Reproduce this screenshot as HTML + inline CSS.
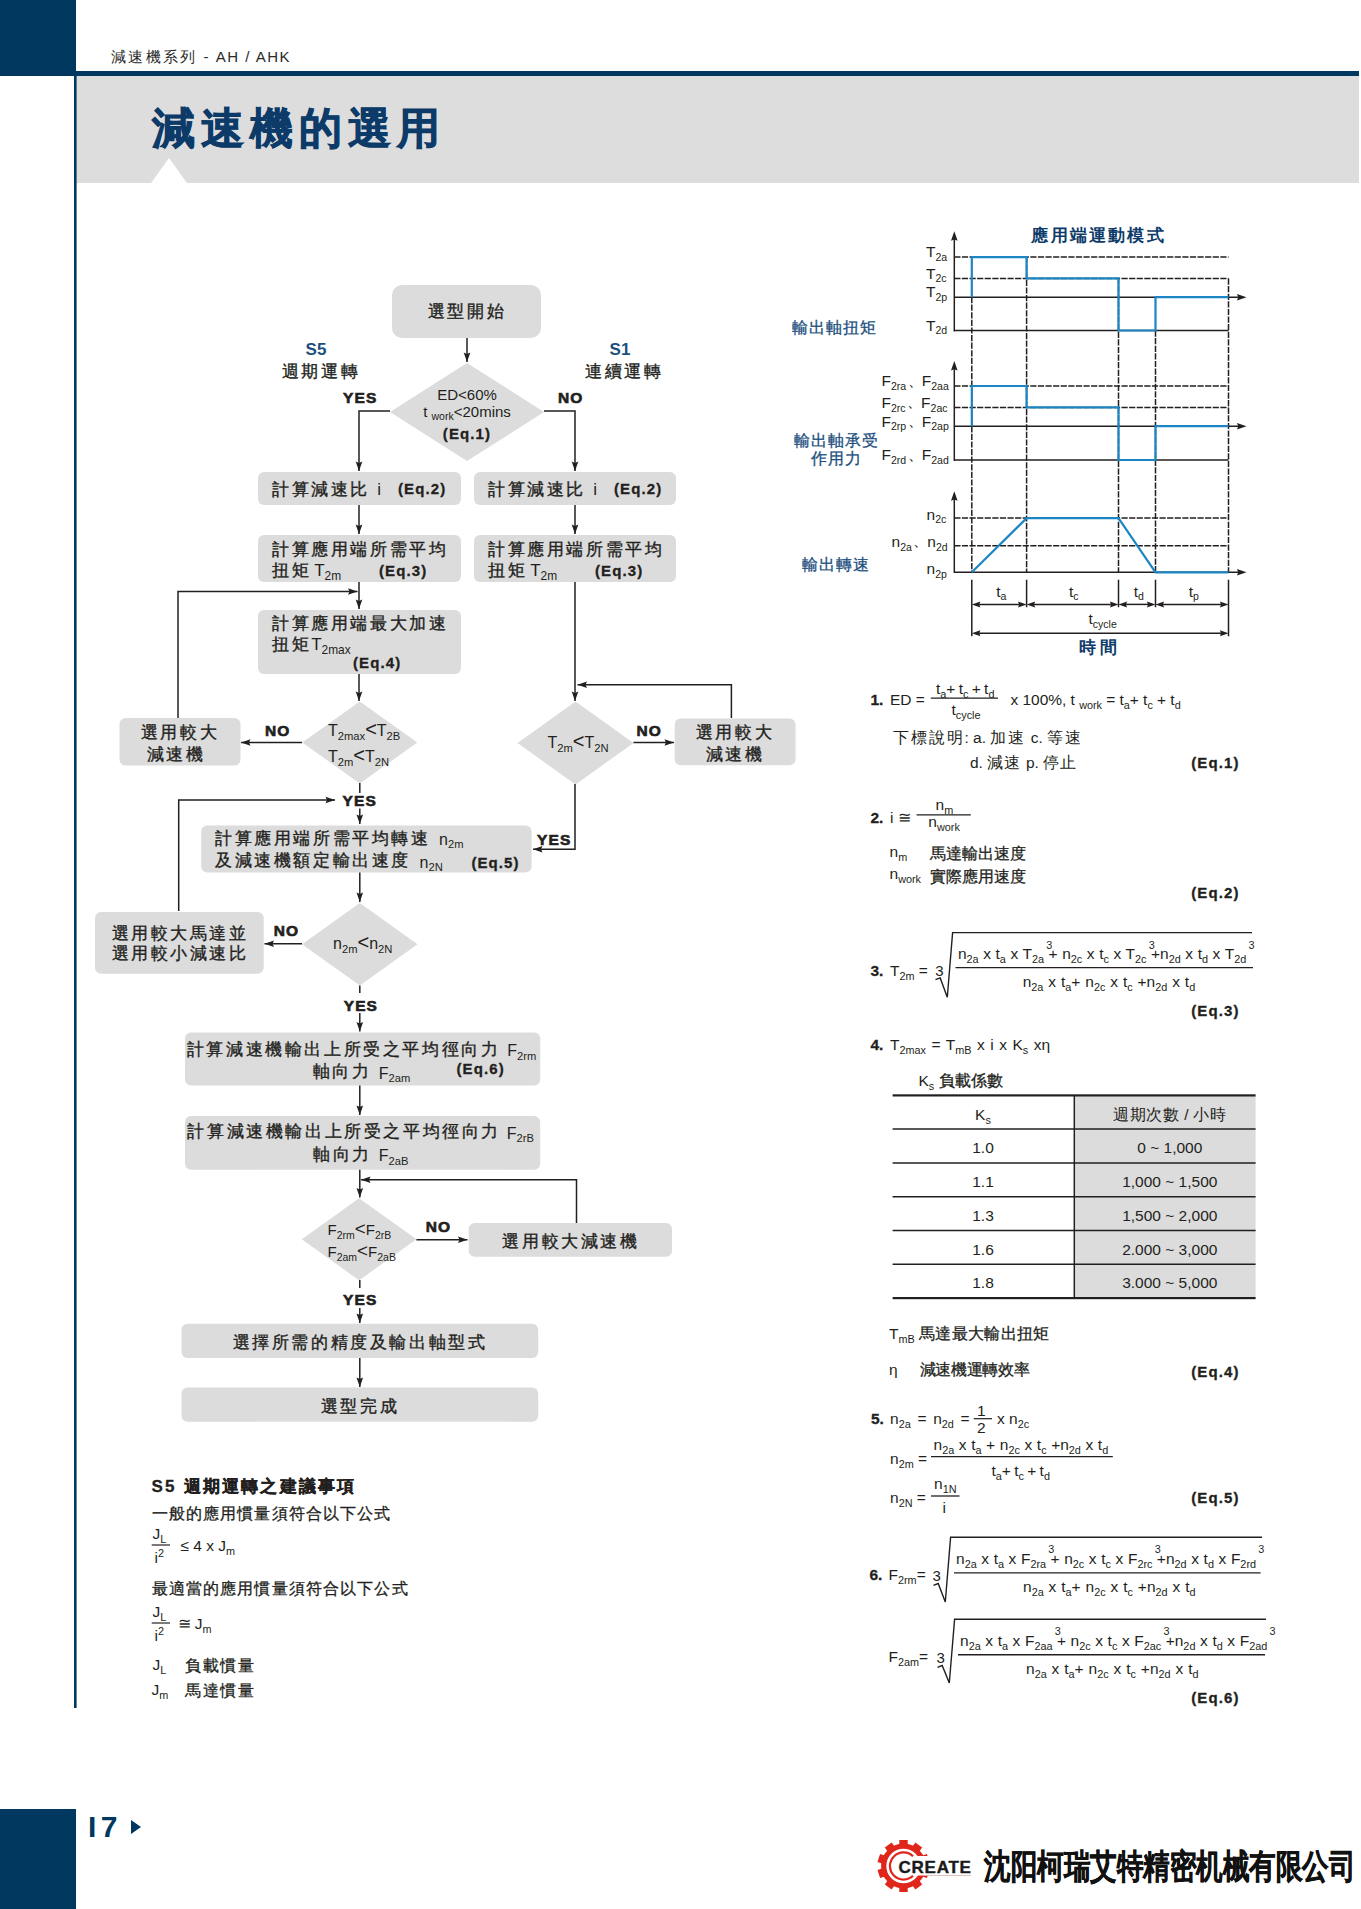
<!DOCTYPE html>
<html><head><meta charset="utf-8">
<style>
html,body{margin:0;padding:0;background:#fff;}
#pg{position:relative;width:1361px;height:1909px;overflow:hidden;background:#fff;font-family:"Liberation Sans",sans-serif;color:#231f20;}
.a{position:absolute;white-space:nowrap;line-height:1;}
.s{font-size:0.7em;position:relative;top:0.34em;letter-spacing:0;font-weight:normal;-webkit-text-stroke:0;}
.nl{letter-spacing:0;-webkit-text-stroke:0;}
.p{font-size:0.62em;position:relative;top:-0.55em;letter-spacing:0;}
.eq{font-weight:bold;letter-spacing:1.1px;-webkit-text-stroke:0.3px #231f20;}
.yn{font-weight:bold;letter-spacing:1.1px;-webkit-text-stroke:0.65px #231f20;}
.sc{font-size:0.68em;position:relative;top:0.36em;letter-spacing:0;}
.dn{font-size:0.95em;letter-spacing:0;margin-left:1.5px;margin-right:-1px;position:relative;top:-0.05em;}
.es{font-size:0.7em;position:relative;top:0.36em;letter-spacing:0;}
.e3{font-size:0.7em;position:relative;top:-0.95em;margin-right:-0.35em;margin-left:0.2em;}
.e2{font-size:0.7em;position:relative;top:-0.5em;}
.lt{font-size:1.25em;letter-spacing:0;position:relative;top:0;}
.s2{font-size:0.7em;position:relative;top:0.4em;letter-spacing:0;font-weight:normal;}
svg{position:absolute;left:0;top:0;}
</style></head><body><div id="pg">
<svg width="1361" height="1909" viewBox="0 0 1361 1909">
<rect x="0" y="0" width="76" height="76" fill="#00385f"/>
<rect x="76" y="71" width="1283" height="5" fill="#00385f"/>
<rect x="76" y="76" width="1283" height="107" fill="#dddddd"/>
<polygon points="151,183 169,158 187,183" fill="#fff"/>
<rect x="74" y="71" width="2.6" height="1637" fill="#00385f"/>
<rect x="0" y="1809" width="76" height="100" fill="#00385f"/>
<polygon points="131,1820 141,1827 131,1834" fill="#00385f"/>
<rect x="392" y="285" width="149" height="53" rx="10" fill="#dcdcdc"/>
<polyline points="467,338 467,362" fill="none" stroke="#231f20" stroke-width="1.5"/>
<polygon points="467.00,362.00 470.30,352.50 467.00,354.00 463.70,352.50" fill="#231f20"/>
<polygon points="390,412 467,363 544,412 467,461" fill="#dcdcdc"/>
<polyline points="390,411 359,411 359,471" fill="none" stroke="#231f20" stroke-width="1.5"/>
<polygon points="359.00,471.00 362.30,461.50 359.00,463.00 355.70,461.50" fill="#231f20"/>
<polyline points="544,411 575,411 575,471" fill="none" stroke="#231f20" stroke-width="1.5"/>
<polygon points="575.00,471.00 578.30,461.50 575.00,463.00 571.70,461.50" fill="#231f20"/>
<rect x="258" y="472" width="203" height="33" rx="6" fill="#dcdcdc"/>
<rect x="474" y="472" width="202" height="33" rx="6" fill="#dcdcdc"/>
<polyline points="359,505 359,534" fill="none" stroke="#231f20" stroke-width="1.5"/>
<polygon points="359.00,534.00 362.30,524.50 359.00,526.00 355.70,524.50" fill="#231f20"/>
<polyline points="575,505 575,534" fill="none" stroke="#231f20" stroke-width="1.5"/>
<polygon points="575.00,534.00 578.30,524.50 575.00,526.00 571.70,524.50" fill="#231f20"/>
<rect x="258" y="535" width="203" height="47" rx="6" fill="#dcdcdc"/>
<rect x="474" y="535" width="202" height="47" rx="6" fill="#dcdcdc"/>
<polyline points="359,582 359,609" fill="none" stroke="#231f20" stroke-width="1.5"/>
<polygon points="359.00,609.00 362.30,599.50 359.00,601.00 355.70,599.50" fill="#231f20"/>
<polyline points="178,718 178,591.5 357.5,591.5" fill="none" stroke="#231f20" stroke-width="1.5"/>
<polygon points="357.50,591.50 348.00,588.20 349.50,591.50 348.00,594.80" fill="#231f20"/>
<rect x="258" y="610" width="203" height="64" rx="6" fill="#dcdcdc"/>
<polyline points="359,674 359,701" fill="none" stroke="#231f20" stroke-width="1.5"/>
<polygon points="359.00,701.00 362.30,691.50 359.00,693.00 355.70,691.50" fill="#231f20"/>
<polygon points="302.3,742.5 359.8,701.5 417.3,742.5 359.8,783.5" fill="#dcdcdc"/>
<polyline points="302,742.5 241,742.5" fill="none" stroke="#231f20" stroke-width="1.5"/>
<polygon points="241.00,742.50 250.50,745.80 249.00,742.50 250.50,739.20" fill="#231f20"/>
<rect x="119.5" y="718" width="121.0" height="47.5" rx="6" fill="#dcdcdc"/>
<polyline points="575,582 575,701" fill="none" stroke="#231f20" stroke-width="1.5"/>
<polygon points="575.00,701.00 578.30,691.50 575.00,693.00 571.70,691.50" fill="#231f20"/>
<polygon points="517.5,743 575.5,701.5 633.5,743 575.5,784.5" fill="#dcdcdc"/>
<polyline points="633.5,742.5 674,742.5" fill="none" stroke="#231f20" stroke-width="1.5"/>
<polygon points="674.00,742.50 664.50,739.20 666.00,742.50 664.50,745.80" fill="#231f20"/>
<rect x="674.7" y="718.5" width="120.79999999999995" height="46.700000000000045" rx="6" fill="#dcdcdc"/>
<polyline points="731.4,718 731.4,684.7 577.5,684.7" fill="none" stroke="#231f20" stroke-width="1.5"/>
<polygon points="577.50,684.70 587.00,688.00 585.50,684.70 587.00,681.40" fill="#231f20"/>
<line x1="359.8" y1="783" x2="359.8" y2="793" stroke="#231f20" stroke-width="1.5"/>
<polyline points="359.8,808.4 359.8,824" fill="none" stroke="#231f20" stroke-width="1.5"/>
<polygon points="359.80,824.00 363.10,814.50 359.80,816.00 356.50,814.50" fill="#231f20"/>
<polyline points="178.7,911 178.7,800 335,800" fill="none" stroke="#231f20" stroke-width="1.5"/>
<polygon points="335.00,800.00 325.50,796.70 327.00,800.00 325.50,803.30" fill="#231f20"/>
<polyline points="575,784 575,849.3 533,849.3" fill="none" stroke="#231f20" stroke-width="1.5"/>
<polygon points="533.00,849.30 542.50,852.60 541.00,849.30 542.50,846.00" fill="#231f20"/>
<rect x="201.2" y="825.5" width="330.40000000000003" height="47.0" rx="6" fill="#dcdcdc"/>
<polyline points="359.8,872.5 359.8,902" fill="none" stroke="#231f20" stroke-width="1.5"/>
<polygon points="359.80,902.00 363.10,892.50 359.80,894.00 356.50,892.50" fill="#231f20"/>
<polygon points="302.1,944.2 359.8,902.9000000000001 417.5,944.2 359.8,985.5" fill="#dcdcdc"/>
<polyline points="302,943.7 264.5,943.7" fill="none" stroke="#231f20" stroke-width="1.5"/>
<polygon points="264.50,943.70 274.00,947.00 272.50,943.70 274.00,940.40" fill="#231f20"/>
<rect x="95" y="912" width="168.7" height="61.700000000000045" rx="6" fill="#dcdcdc"/>
<line x1="359.8" y1="985.5" x2="359.8" y2="993" stroke="#231f20" stroke-width="1.5"/>
<polyline points="359.8,1013 359.8,1031.5" fill="none" stroke="#231f20" stroke-width="1.5"/>
<polygon points="359.80,1031.50 363.10,1022.00 359.80,1023.50 356.50,1022.00" fill="#231f20"/>
<rect x="185" y="1032.5" width="355.20000000000005" height="53.0" rx="6" fill="#dcdcdc"/>
<polyline points="359.8,1085.5 359.8,1115" fill="none" stroke="#231f20" stroke-width="1.5"/>
<polygon points="359.80,1115.00 363.10,1105.50 359.80,1107.00 356.50,1105.50" fill="#231f20"/>
<rect x="185" y="1116" width="355.20000000000005" height="53.700000000000045" rx="6" fill="#dcdcdc"/>
<polyline points="359.8,1169.7 359.8,1197.5" fill="none" stroke="#231f20" stroke-width="1.5"/>
<polygon points="359.80,1197.50 363.10,1188.00 359.80,1189.50 356.50,1188.00" fill="#231f20"/>
<polyline points="576.5,1223 576.5,1179.7 361,1179.7" fill="none" stroke="#231f20" stroke-width="1.5"/>
<polygon points="361.00,1179.70 370.50,1183.00 369.00,1179.70 370.50,1176.40" fill="#231f20"/>
<polygon points="301.8,1239.3 359.1,1198.3 416.40000000000003,1239.3 359.1,1280.3" fill="#dcdcdc"/>
<polyline points="416.4,1239.7 467.5,1239.7" fill="none" stroke="#231f20" stroke-width="1.5"/>
<polygon points="467.50,1239.70 458.00,1236.40 459.50,1239.70 458.00,1243.00" fill="#231f20"/>
<rect x="468.7" y="1222.9" width="203.3" height="33.799999999999955" rx="6" fill="#dcdcdc"/>
<line x1="359.8" y1="1280" x2="359.8" y2="1288" stroke="#231f20" stroke-width="1.5"/>
<polyline points="359.8,1308 359.8,1323" fill="none" stroke="#231f20" stroke-width="1.5"/>
<polygon points="359.80,1323.00 363.10,1313.50 359.80,1315.00 356.50,1313.50" fill="#231f20"/>
<rect x="181.5" y="1323.8" width="356.70000000000005" height="34.299999999999955" rx="6" fill="#dcdcdc"/>
<polyline points="359.8,1358.1 359.8,1387" fill="none" stroke="#231f20" stroke-width="1.5"/>
<polygon points="359.80,1387.00 363.10,1377.50 359.80,1379.00 356.50,1377.50" fill="#231f20"/>
<rect x="181.5" y="1387.4" width="356.70000000000005" height="34.299999999999955" rx="6" fill="#dcdcdc"/>
<line x1="971.8" y1="297" x2="971.8" y2="572" stroke="#231f20" stroke-width="1.5" stroke-dasharray="6.2 1.4"/>
<line x1="1026.6" y1="257" x2="1026.6" y2="572" stroke="#231f20" stroke-width="1.5" stroke-dasharray="6.2 1.4"/>
<line x1="1118.5" y1="278.5" x2="1118.5" y2="572" stroke="#231f20" stroke-width="1.5" stroke-dasharray="6.2 1.4"/>
<line x1="1155.5" y1="330.5" x2="1155.5" y2="572" stroke="#231f20" stroke-width="1.5" stroke-dasharray="6.2 1.4"/>
<line x1="1228.5" y1="278.5" x2="1228.5" y2="572" stroke="#231f20" stroke-width="1.5" stroke-dasharray="6.2 1.4"/>
<line x1="954.3" y1="235.3" x2="954.3" y2="331.5" stroke="#231f20" stroke-width="1.5" />
<polygon points="954.30,231.30 951.00,240.80 954.30,239.60 957.60,240.80" fill="#231f20"/>
<line x1="954.3" y1="257.1" x2="1228.5" y2="257.1" stroke="#231f20" stroke-width="1.5" stroke-dasharray="6.2 1.4"/>
<line x1="954.3" y1="278.4" x2="1228.5" y2="278.4" stroke="#231f20" stroke-width="1.5" stroke-dasharray="6.2 1.4"/>
<line x1="954.3" y1="297.2" x2="1240" y2="297.2" stroke="#231f20" stroke-width="1.5" />
<polygon points="1246.50,297.20 1237.00,293.90 1238.20,297.20 1237.00,300.50" fill="#231f20"/>
<line x1="954.3" y1="330.5" x2="1228.5" y2="330.5" stroke="#231f20" stroke-width="1.5" />
<polyline points="971.8,297.2 971.8,257.1 1026.6,257.1 1026.6,278.4 1118.5,278.4 1118.5,330.5 1155.5,330.5 1155.5,297.2 1228.5,297.2" fill="none" stroke="#1b86c3" stroke-width="2.2"/>
<line x1="954.3" y1="365" x2="954.3" y2="461" stroke="#231f20" stroke-width="1.5" />
<polygon points="954.30,361.00 951.00,370.50 954.30,369.30 957.60,370.50" fill="#231f20"/>
<line x1="954.3" y1="386" x2="1228.5" y2="386" stroke="#231f20" stroke-width="1.5" stroke-dasharray="6.2 1.4"/>
<line x1="954.3" y1="407.4" x2="1228.5" y2="407.4" stroke="#231f20" stroke-width="1.5" stroke-dasharray="6.2 1.4"/>
<line x1="954.3" y1="426.2" x2="1240" y2="426.2" stroke="#231f20" stroke-width="1.5" />
<polygon points="1246.50,426.20 1237.00,422.90 1238.20,426.20 1237.00,429.50" fill="#231f20"/>
<line x1="954.3" y1="460" x2="1228.5" y2="460" stroke="#231f20" stroke-width="1.5" />
<polyline points="971.8,426.2 971.8,386 1026.6,386 1026.6,407.4 1118.5,407.4 1118.5,460 1155.5,460 1155.5,426.2 1228.5,426.2" fill="none" stroke="#1b86c3" stroke-width="2.2"/>
<line x1="954.3" y1="495" x2="954.3" y2="573" stroke="#231f20" stroke-width="1.5" />
<polygon points="954.30,491.20 951.00,500.70 954.30,499.50 957.60,500.70" fill="#231f20"/>
<line x1="954.3" y1="518.1" x2="1228.5" y2="518.1" stroke="#231f20" stroke-width="1.5" stroke-dasharray="6.2 1.4"/>
<line x1="954.3" y1="545.7" x2="1228.5" y2="545.7" stroke="#231f20" stroke-width="1.5" stroke-dasharray="6.2 1.4"/>
<line x1="954.3" y1="572.3" x2="1240" y2="572.3" stroke="#231f20" stroke-width="1.5" />
<polygon points="1246.50,572.30 1237.00,569.00 1238.20,572.30 1237.00,575.60" fill="#231f20"/>
<polyline points="971.8,572.3 1026.6,518.1 1118.5,518.1 1155.5,572.3 1228.5,572.3" fill="none" stroke="#1b86c3" stroke-width="2.2"/>
<line x1="971.8" y1="579.7" x2="971.8" y2="636.3" stroke="#231f20" stroke-width="1.5" />
<line x1="1228.5" y1="579.7" x2="1228.5" y2="636.3" stroke="#231f20" stroke-width="1.5" />
<line x1="1026.6" y1="579.7" x2="1026.6" y2="607.2" stroke="#231f20" stroke-width="1.5" />
<line x1="1118.5" y1="579.7" x2="1118.5" y2="607.2" stroke="#231f20" stroke-width="1.5" />
<line x1="1155.5" y1="579.7" x2="1155.5" y2="607.2" stroke="#231f20" stroke-width="1.5" />
<line x1="975.8" y1="604.4" x2="1022.5999999999999" y2="604.4" stroke="#231f20" stroke-width="1.5" />
<polygon points="971.80,604.40 980.40,607.40 979.20,604.40 980.40,601.40" fill="#231f20"/>
<polygon points="1026.60,604.40 1018.00,601.40 1019.20,604.40 1018.00,607.40" fill="#231f20"/>
<line x1="1030.6" y1="604.4" x2="1114.5" y2="604.4" stroke="#231f20" stroke-width="1.5" />
<polygon points="1026.60,604.40 1035.20,607.40 1034.00,604.40 1035.20,601.40" fill="#231f20"/>
<polygon points="1118.50,604.40 1109.90,601.40 1111.10,604.40 1109.90,607.40" fill="#231f20"/>
<line x1="1122.5" y1="604.4" x2="1151.5" y2="604.4" stroke="#231f20" stroke-width="1.5" />
<polygon points="1118.50,604.40 1127.10,607.40 1125.90,604.40 1127.10,601.40" fill="#231f20"/>
<polygon points="1155.50,604.40 1146.90,601.40 1148.10,604.40 1146.90,607.40" fill="#231f20"/>
<line x1="1159.5" y1="604.4" x2="1224.5" y2="604.4" stroke="#231f20" stroke-width="1.5" />
<polygon points="1155.50,604.40 1164.10,607.40 1162.90,604.40 1164.10,601.40" fill="#231f20"/>
<polygon points="1228.50,604.40 1219.90,601.40 1221.10,604.40 1219.90,607.40" fill="#231f20"/>
<line x1="975.8" y1="633.2" x2="1224.5" y2="633.2" stroke="#231f20" stroke-width="1.5" />
<polygon points="971.80,633.20 980.40,636.20 979.20,633.20 980.40,630.20" fill="#231f20"/>
<polygon points="1228.50,633.20 1219.90,630.20 1221.10,633.20 1219.90,636.20" fill="#231f20"/>
<line x1="930.8" y1="698.2" x2="998" y2="698.2" stroke="#231f20" stroke-width="1.2" />
<line x1="916.6" y1="814.8" x2="970.8" y2="814.8" stroke="#231f20" stroke-width="1.2" />
<polyline points="935.5,979.7 940.2,977.9 947.3,997.3 952.6,932.6 1252,932.6" fill="none" stroke="#231f20" stroke-width="1.4"/>
<line x1="955.5" y1="967.6" x2="1253" y2="967.6" stroke="#231f20" stroke-width="1.4" />
<rect x="1074.3" y="1095.3" width="181.3" height="202.7" fill="#dcdcdc"/>
<rect x="892.6" y="1094.3" width="363" height="2.2" fill="#231f20"/>
<rect x="892.6" y="1297" width="363" height="2.2" fill="#231f20"/>
<line x1="892.6" y1="1129" x2="1255.6" y2="1129" stroke="#231f20" stroke-width="1.5" />
<line x1="892.6" y1="1163" x2="1255.6" y2="1163" stroke="#231f20" stroke-width="1.5" />
<line x1="892.6" y1="1196.7" x2="1255.6" y2="1196.7" stroke="#231f20" stroke-width="1.5" />
<line x1="892.6" y1="1230.5" x2="1255.6" y2="1230.5" stroke="#231f20" stroke-width="1.5" />
<line x1="892.6" y1="1264.3" x2="1255.6" y2="1264.3" stroke="#231f20" stroke-width="1.5" />
<line x1="1074.3" y1="1095.3" x2="1074.3" y2="1298" stroke="#231f20" stroke-width="1.5" />
<line x1="973.7" y1="1418.7" x2="992" y2="1418.7" stroke="#231f20" stroke-width="1.2" />
<line x1="931" y1="1456.6" x2="1112.8" y2="1456.6" stroke="#231f20" stroke-width="1.3" />
<line x1="931" y1="1496" x2="959.5" y2="1496" stroke="#231f20" stroke-width="1.3" />
<polyline points="933.5,1585.3 938.2,1583.5 945.3,1602 950.6,1537.2 1262,1537.2" fill="none" stroke="#231f20" stroke-width="1.4"/>
<line x1="954" y1="1572.9" x2="1260.6" y2="1572.9" stroke="#231f20" stroke-width="1.4" />
<polyline points="937.5,1667.3 942.2,1665.5 949.3,1683 954.6,1619.3 1266,1619.3" fill="none" stroke="#231f20" stroke-width="1.4"/>
<line x1="958" y1="1654.7" x2="1265" y2="1654.7" stroke="#231f20" stroke-width="1.4" />
<line x1="151.7" y1="1545" x2="170" y2="1545" stroke="#231f20" stroke-width="1.2" />
<line x1="151.7" y1="1623" x2="170" y2="1623" stroke="#231f20" stroke-width="1.2" />
<g><rect x="899.3" y="1840" width="8.4" height="8" fill="#e0251b" transform="rotate(0 903.5 1866)"/><rect x="899.3" y="1840" width="8.4" height="8" fill="#e0251b" transform="rotate(36 903.5 1866)"/><rect x="899.3" y="1840" width="8.4" height="8" fill="#e0251b" transform="rotate(72 903.5 1866)"/><rect x="899.3" y="1840" width="8.4" height="8" fill="#e0251b" transform="rotate(108 903.5 1866)"/><rect x="899.3" y="1840" width="8.4" height="8" fill="#e0251b" transform="rotate(144 903.5 1866)"/><rect x="899.3" y="1840" width="8.4" height="8" fill="#e0251b" transform="rotate(180 903.5 1866)"/><rect x="899.3" y="1840" width="8.4" height="8" fill="#e0251b" transform="rotate(216 903.5 1866)"/><rect x="899.3" y="1840" width="8.4" height="8" fill="#e0251b" transform="rotate(252 903.5 1866)"/><rect x="899.3" y="1840" width="8.4" height="8" fill="#e0251b" transform="rotate(288 903.5 1866)"/><rect x="899.3" y="1840" width="8.4" height="8" fill="#e0251b" transform="rotate(324 903.5 1866)"/><circle cx="903.5" cy="1866" r="19.8" fill="none" stroke="#e0251b" stroke-width="5.2"/></g>
<path d="M 913.0,1856.2 A 13.6 13.6 0 1 0 913.0,1875.8" fill="none" stroke="#e0251b" stroke-width="2.2"/>
<rect x="916" y="1856" width="16" height="19.5" fill="#fff"/>
<line x1="923" y1="1875.5" x2="971" y2="1875.5" stroke="#d9b0ad" stroke-width="0.8"/>
</svg>
<div class="a" style="left:111.0px;top:48.5px;font-size:15px;letter-spacing:2.3px;color:#2a2a2a;">減速機系列<span style="letter-spacing:1.5px;margin-left:6px">- AH / AHK</span></div>
<div class="a" style="left:152.0px;top:107.3px;font-size:43px;letter-spacing:6.1px;color:#0d3b69;font-weight:900;-webkit-text-stroke:0.8px #0d3b69;">減速機的選用</div>
<div class="a" style="left:88.0px;top:1812.4px;font-size:30px;font-weight:bold;color:#00385f;letter-spacing:4.5px;">I7</div>
<div class="a" style="left:467.0px;top:303.0px;font-size:17px;transform:translateX(-50%);letter-spacing:2.6px;-webkit-text-stroke:0.35px #231f20;">選型開始</div>
<div class="a" style="left:316.0px;top:341.0px;font-size:17px;transform:translateX(-50%);font-weight:bold;color:#1c4f7c;">S5</div>
<div class="a" style="left:321.0px;top:363.0px;font-size:17px;transform:translateX(-50%);letter-spacing:2.6px;-webkit-text-stroke:0.35px #231f20;">週期運轉</div>
<div class="a" style="left:620.0px;top:341.0px;font-size:17px;transform:translateX(-50%);font-weight:bold;color:#1c4f7c;">S1</div>
<div class="a" style="left:624.5px;top:363.0px;font-size:17px;transform:translateX(-50%);letter-spacing:2.6px;-webkit-text-stroke:0.35px #231f20;">連續運轉</div>
<div class="a" style="left:343.0px;top:389.7px;font-size:15.5px;"><span class="yn">YES</span></div>
<div class="a" style="left:558.0px;top:389.7px;font-size:15.5px;"><span class="yn">NO</span></div>
<div class="a" style="left:467.0px;top:386.9px;font-size:15px;transform:translateX(-50%);">ED&lt;60%</div>
<div class="a" style="left:467.0px;top:403.9px;font-size:15px;transform:translateX(-50%);">t <span class="s">work</span>&lt;20mins</div>
<div class="a" style="left:467.0px;top:425.9px;font-size:15px;transform:translateX(-50%);"><b class="eq">(Eq.1)</b></div>
<div class="a" style="left:272.0px;top:480.5px;font-size:17px;letter-spacing:2.6px;-webkit-text-stroke:0.35px #231f20;">計算減速比 <span class="nl">i</span></div>
<div class="a" style="left:398.0px;top:481.4px;font-size:15px;"><b class="eq">(Eq.2)</b></div>
<div class="a" style="left:488.0px;top:480.5px;font-size:17px;letter-spacing:2.6px;-webkit-text-stroke:0.35px #231f20;">計算減速比 <span class="nl">i</span></div>
<div class="a" style="left:614.0px;top:481.4px;font-size:15px;"><b class="eq">(Eq.2)</b></div>
<div class="a" style="left:272.0px;top:541.0px;font-size:17px;letter-spacing:2.6px;-webkit-text-stroke:0.35px #231f20;">計算應用端所需平均</div>
<div class="a" style="left:272.0px;top:562.0px;font-size:17px;letter-spacing:2.6px;-webkit-text-stroke:0.35px #231f20;">扭矩<span class="nl" style="margin-left:3px">T</span><span class="s">2m</span></div>
<div class="a" style="left:379.0px;top:563.0px;font-size:15px;"><b class="eq">(Eq.3)</b></div>
<div class="a" style="left:488.0px;top:541.0px;font-size:17px;letter-spacing:2.6px;-webkit-text-stroke:0.35px #231f20;">計算應用端所需平均</div>
<div class="a" style="left:488.0px;top:562.0px;font-size:17px;letter-spacing:2.6px;-webkit-text-stroke:0.35px #231f20;">扭矩<span class="nl" style="margin-left:3px">T</span><span class="s">2m</span></div>
<div class="a" style="left:595.0px;top:563.0px;font-size:15px;"><b class="eq">(Eq.3)</b></div>
<div class="a" style="left:272.0px;top:615.0px;font-size:17px;letter-spacing:2.6px;-webkit-text-stroke:0.35px #231f20;">計算應用端最大加速</div>
<div class="a" style="left:272.0px;top:636.0px;font-size:17px;letter-spacing:2.6px;-webkit-text-stroke:0.35px #231f20;">扭矩<span class="nl">T</span><span class="s">2max</span></div>
<div class="a" style="left:353.0px;top:655.0px;font-size:15px;"><b class="eq">(Eq.4)</b></div>
<div class="a" style="left:328.0px;top:718.5px;font-size:16px;">T<span class="s2">2max</span><span class="lt">&lt;</span>T<span class="s2">2B</span></div>
<div class="a" style="left:328.0px;top:744.5px;font-size:16px;">T<span class="s2">2m</span><span class="lt">&lt;</span>T<span class="s2">2N</span></div>
<div class="a" style="left:180.0px;top:723.5px;font-size:17px;transform:translateX(-50%);letter-spacing:2.6px;-webkit-text-stroke:0.35px #231f20;">選用較大</div>
<div class="a" style="left:176.0px;top:745.5px;font-size:17px;transform:translateX(-50%);letter-spacing:2.6px;-webkit-text-stroke:0.35px #231f20;">減速機</div>
<div class="a" style="left:265.0px;top:723.2px;font-size:15.5px;"><span class="yn">NO</span></div>
<div class="a" style="left:547.5px;top:730.5px;font-size:16px;">T<span class="s2">2m</span><span class="lt">&lt;</span>T<span class="s2">2N</span></div>
<div class="a" style="left:636.5px;top:723.2px;font-size:15.5px;"><span class="yn">NO</span></div>
<div class="a" style="left:735.0px;top:723.8px;font-size:17px;transform:translateX(-50%);letter-spacing:2.6px;-webkit-text-stroke:0.35px #231f20;">選用較大</div>
<div class="a" style="left:735.0px;top:745.8px;font-size:17px;transform:translateX(-50%);letter-spacing:2.6px;-webkit-text-stroke:0.35px #231f20;">減速機</div>
<div class="a" style="left:342.6px;top:792.7px;font-size:15.5px;"><span class="yn">YES</span></div>
<div class="a" style="left:537.0px;top:831.7px;font-size:15.5px;"><span class="yn">YES</span></div>
<div class="a" style="left:215.0px;top:829.5px;font-size:17px;letter-spacing:2.6px;-webkit-text-stroke:0.35px #231f20;">計算應用端所需平均轉速</div>
<div class="a" style="left:439.0px;top:831.5px;font-size:16px;">n<span class="s">2m</span></div>
<div class="a" style="left:215.0px;top:852.0px;font-size:17px;letter-spacing:2.6px;-webkit-text-stroke:0.35px #231f20;">及減速機額定輸出速度</div>
<div class="a" style="left:419.6px;top:854.5px;font-size:16px;">n<span class="s">2N</span></div>
<div class="a" style="left:471.4px;top:854.6px;font-size:15px;"><b class="eq">(Eq.5)</b></div>
<div class="a" style="left:333.0px;top:932.0px;font-size:16px;">n<span class="s2">2m</span><span class="lt">&lt;</span>n<span class="s2">2N</span></div>
<div class="a" style="left:273.7px;top:922.7px;font-size:15.5px;"><span class="yn">NO</span></div>
<div class="a" style="left:111.5px;top:924.5px;font-size:17px;letter-spacing:2.6px;-webkit-text-stroke:0.35px #231f20;">選用較大馬達並</div>
<div class="a" style="left:111.5px;top:945.2px;font-size:17px;letter-spacing:2.6px;-webkit-text-stroke:0.35px #231f20;">選用較小減速比</div>
<div class="a" style="left:343.7px;top:998.2px;font-size:15.5px;"><span class="yn">YES</span></div>
<div class="a" style="left:186.8px;top:1040.7px;font-size:17px;letter-spacing:2.6px;-webkit-text-stroke:0.35px #231f20;">計算減速機輸出上所受之平均徑向力</div>
<div class="a" style="left:507.3px;top:1043.0px;font-size:16px;">F<span class="s">2rm</span></div>
<div class="a" style="left:312.5px;top:1063.0px;font-size:17px;letter-spacing:2.6px;-webkit-text-stroke:0.35px #231f20;">軸向力</div>
<div class="a" style="left:378.8px;top:1065.5px;font-size:16px;">F<span class="s">2am</span></div>
<div class="a" style="left:456.5px;top:1061.2px;font-size:15px;"><b class="eq">(Eq.6)</b></div>
<div class="a" style="left:187.4px;top:1123.0px;font-size:17px;letter-spacing:2.6px;-webkit-text-stroke:0.35px #231f20;">計算減速機輸出上所受之平均徑向力</div>
<div class="a" style="left:506.8px;top:1125.5px;font-size:16px;">F<span class="s">2rB</span></div>
<div class="a" style="left:313.0px;top:1145.5px;font-size:17px;letter-spacing:2.6px;-webkit-text-stroke:0.35px #231f20;">軸向力</div>
<div class="a" style="left:378.8px;top:1148.0px;font-size:16px;">F<span class="s">2aB</span></div>
<div class="a" style="left:327.5px;top:1219.5px;font-size:15px;">F<span class="s2">2rm</span><span class="lt">&lt;</span>F<span class="s2">2rB</span></div>
<div class="a" style="left:327.5px;top:1241.5px;font-size:15px;">F<span class="s2">2am</span><span class="lt">&lt;</span>F<span class="s2">2aB</span></div>
<div class="a" style="left:425.8px;top:1218.5px;font-size:15.5px;"><span class="yn">NO</span></div>
<div class="a" style="left:571.0px;top:1232.5px;font-size:17px;transform:translateX(-50%);letter-spacing:2.6px;-webkit-text-stroke:0.35px #231f20;">選用較大減速機</div>
<div class="a" style="left:343.0px;top:1292.0px;font-size:15.5px;"><span class="yn">YES</span></div>
<div class="a" style="left:360.0px;top:1333.5px;font-size:17px;transform:translateX(-50%);letter-spacing:2.6px;-webkit-text-stroke:0.35px #231f20;">選擇所需的精度及輸出軸型式</div>
<div class="a" style="left:360.0px;top:1398.0px;font-size:17px;transform:translateX(-50%);letter-spacing:2.6px;-webkit-text-stroke:0.35px #231f20;">選型完成</div>
<div class="a" style="left:1098.6px;top:227.0px;font-size:17px;transform:translateX(-50%);font-weight:bold;letter-spacing:2.2px;color:#0d3b69;">應用端運動模式</div>
<div class="a" style="left:1079.0px;top:639.0px;font-size:16.5px;font-weight:bold;letter-spacing:3.5px;color:#0d3b69;">時間</div>
<div class="a" style="left:792.0px;top:319.7px;font-size:15.5px;letter-spacing:1.05px;color:#1d4f7e;-webkit-text-stroke:0.3px #1d4f7e;">輸出軸扭矩</div>
<div class="a" style="left:793.5px;top:432.7px;font-size:15.5px;letter-spacing:1.05px;color:#1d4f7e;-webkit-text-stroke:0.3px #1d4f7e;">輸出軸承受</div>
<div class="a" style="left:811.0px;top:450.7px;font-size:15.5px;letter-spacing:1.05px;color:#1d4f7e;-webkit-text-stroke:0.3px #1d4f7e;">作用力</div>
<div class="a" style="left:801.5px;top:556.7px;font-size:15.5px;letter-spacing:1.05px;color:#1d4f7e;-webkit-text-stroke:0.3px #1d4f7e;">輸出轉速</div>
<div class="a" style="left:926.0px;top:244.3px;font-size:15.5px;">T<span class="sc">2a</span></div>
<div class="a" style="left:926.0px;top:265.6px;font-size:15.5px;">T<span class="sc">2c</span></div>
<div class="a" style="left:926.0px;top:284.4px;font-size:15.5px;">T<span class="sc">2p</span></div>
<div class="a" style="left:926.0px;top:317.7px;font-size:15.5px;">T<span class="sc">2d</span></div>
<div class="a" style="left:881.5px;top:373.4px;font-size:15.5px;">F<span class="sc">2ra</span><span class="dn">、</span>F<span class="sc">2aa</span></div>
<div class="a" style="left:881.5px;top:394.8px;font-size:15.5px;">F<span class="sc">2rc</span><span class="dn">、</span>F<span class="sc">2ac</span></div>
<div class="a" style="left:881.5px;top:413.6px;font-size:15.5px;">F<span class="sc">2rp</span><span class="dn">、</span>F<span class="sc">2ap</span></div>
<div class="a" style="left:881.5px;top:447.4px;font-size:15.5px;">F<span class="sc">2rd</span><span class="dn">、</span>F<span class="sc">2ad</span></div>
<div class="a" style="left:926.5px;top:506.6px;font-size:15.5px;">n<span class="sc">2c</span></div>
<div class="a" style="left:891.5px;top:534.2px;font-size:15.5px;">n<span class="sc">2a</span><span class="dn">、</span>n<span class="sc">2d</span></div>
<div class="a" style="left:926.5px;top:560.8px;font-size:15.5px;">n<span class="sc">2p</span></div>
<div class="a" style="left:996.2px;top:583.7px;font-size:15.5px;">t<span class="sc">a</span></div>
<div class="a" style="left:1069.0px;top:583.7px;font-size:15.5px;">t<span class="sc">c</span></div>
<div class="a" style="left:1133.8px;top:583.7px;font-size:15.5px;">t<span class="sc">d</span></div>
<div class="a" style="left:1188.8px;top:583.7px;font-size:15.5px;">t<span class="sc">p</span></div>
<div class="a" style="left:1088.5px;top:611.2px;font-size:15.5px;">t<span class="sc">cycle</span></div>
<div class="a" style="left:870.5px;top:692.2px;font-size:15.5px;font-weight:bold;-webkit-text-stroke:0.3px #231f20;">1.</div>
<div class="a" style="left:890.0px;top:692.2px;font-size:15.5px;">ED =</div>
<div class="a" style="left:936.0px;top:681.2px;font-size:15.5px;word-spacing:-1px;">t<span class="es">a</span>+ t<span class="es">c</span> + t<span class="es">d</span></div>
<div class="a" style="left:951.5px;top:702.2px;font-size:15.5px;">t<span class="es">cycle</span></div>
<div class="a" style="left:1010.5px;top:692.2px;font-size:15.5px;word-spacing:-0.1px;">x 100%, t <span class="es">work</span> = t<span class="es">a</span>+ t<span class="es">c</span> + t<span class="es">d</span></div>
<div class="a" style="left:892.5px;top:729.7px;font-size:15.5px;letter-spacing:2px;">下標說明<span style="letter-spacing:0">: a. </span>加速<span style="letter-spacing:0"> c. </span>等速</div>
<div class="a" style="left:970.0px;top:754.7px;font-size:15.5px;letter-spacing:1.2px;"><span style="letter-spacing:0">d. </span>減速<span style="letter-spacing:0"> p. </span>停止</div>
<div class="a" style="right:121.5px;top:755.0px;font-size:15px;"><b class="eq">(Eq.1)</b></div>
<div class="a" style="left:870.5px;top:810.2px;font-size:15.5px;font-weight:bold;-webkit-text-stroke:0.3px #231f20;">2.</div>
<div class="a" style="left:890.0px;top:810.2px;font-size:15.5px;">i ≅</div>
<div class="a" style="left:935.5px;top:797.2px;font-size:15.5px;">n<span class="es">m</span></div>
<div class="a" style="left:928.3px;top:814.2px;font-size:15.5px;">n<span class="es">work</span></div>
<div class="a" style="left:889.5px;top:843.7px;font-size:15.5px;">n<span class="es">m</span></div>
<div class="a" style="left:929.5px;top:845.7px;font-size:15.5px;letter-spacing:0.2px;-webkit-text-stroke:0.3px #231f20;">馬達輸出速度</div>
<div class="a" style="left:889.5px;top:866.2px;font-size:15.5px;">n<span class="es">work</span></div>
<div class="a" style="left:929.5px;top:868.7px;font-size:15.5px;letter-spacing:0.2px;-webkit-text-stroke:0.3px #231f20;">實際應用速度</div>
<div class="a" style="right:121.5px;top:884.5px;font-size:15px;"><b class="eq">(Eq.2)</b></div>
<div class="a" style="left:870.5px;top:963.0px;font-size:15.5px;font-weight:bold;-webkit-text-stroke:0.3px #231f20;">3.</div>
<div class="a" style="left:890.0px;top:962.7px;font-size:15.5px;">T<span class="es">2m</span> = </div>
<div class="a" style="left:935.3px;top:963.0px;font-size:15px;">3</div>
<div class="a" style="left:957.9px;top:946.2px;font-size:15.5px;word-spacing:0.3px;">n<span class="es">2a</span> x t<span class="es">a</span> x T<span class="es">2a</span><span class="e3">3</span>+ n<span class="es">2c</span> x t<span class="es">c</span> x T<span class="es">2c</span><span class="e3">3</span>+n<span class="es">2d</span> x t<span class="es">d</span> x T<span class="es">2d</span><span class="e3">3</span></div>
<div class="a" style="left:1022.7px;top:973.9px;font-size:15.5px;word-spacing:0.6px;">n<span class="es">2a</span> x t<span class="es">a</span>+ n<span class="es">2c</span> x t<span class="es">c</span> +n<span class="es">2d</span> x t<span class="es">d</span></div>
<div class="a" style="right:121.5px;top:1003.0px;font-size:15px;"><b class="eq">(Eq.3)</b></div>
<div class="a" style="left:870.5px;top:1037.2px;font-size:15.5px;font-weight:bold;-webkit-text-stroke:0.3px #231f20;">4.</div>
<div class="a" style="left:890.0px;top:1037.2px;font-size:15.5px;word-spacing:1.2px;">T<span class="es">2max</span> = T<span class="es">mB</span> x i x K<span class="es">s</span> xη</div>
<div class="a" style="left:918.5px;top:1073.2px;font-size:15.5px;">K<span class="es">s</span> <span style="letter-spacing:0.3px;-webkit-text-stroke:0.3px #231f20;">負載係數</span></div>
<div class="a" style="left:983.0px;top:1106.7px;font-size:15.5px;transform:translateX(-50%);">K<span class="es">s</span></div>
<div class="a" style="left:1169.8px;top:1106.7px;font-size:15.5px;transform:translateX(-50%);letter-spacing:0.5px;">週期次數 <span style="letter-spacing:0">/</span> 小時</div>
<div class="a" style="left:983.0px;top:1140.2px;font-size:15.5px;transform:translateX(-50%);">1.0</div>
<div class="a" style="left:1169.8px;top:1140.2px;font-size:15.5px;transform:translateX(-50%);">0 ~ 1,000</div>
<div class="a" style="left:983.0px;top:1174.0px;font-size:15.5px;transform:translateX(-50%);">1.1</div>
<div class="a" style="left:1169.8px;top:1174.0px;font-size:15.5px;transform:translateX(-50%);">1,000 ~ 1,500</div>
<div class="a" style="left:983.0px;top:1207.8px;font-size:15.5px;transform:translateX(-50%);">1.3</div>
<div class="a" style="left:1169.8px;top:1207.8px;font-size:15.5px;transform:translateX(-50%);">1,500 ~ 2,000</div>
<div class="a" style="left:983.0px;top:1241.6px;font-size:15.5px;transform:translateX(-50%);">1.6</div>
<div class="a" style="left:1169.8px;top:1241.6px;font-size:15.5px;transform:translateX(-50%);">2.000 ~ 3,000</div>
<div class="a" style="left:983.0px;top:1275.4px;font-size:15.5px;transform:translateX(-50%);">1.8</div>
<div class="a" style="left:1169.8px;top:1275.4px;font-size:15.5px;transform:translateX(-50%);">3.000 ~ 5,000</div>
<div class="a" style="left:889.0px;top:1325.7px;font-size:15.5px;">T<span class="es">mB</span> <span style="letter-spacing:0.3px;-webkit-text-stroke:0.3px #231f20;">馬達最大輸出扭矩</span></div>
<div class="a" style="left:889.0px;top:1362.2px;font-size:15.5px;">η</div>
<div class="a" style="left:919.5px;top:1362.2px;font-size:15.5px;letter-spacing:-0.3px;-webkit-text-stroke:0.3px #231f20;">減速機運轉效率</div>
<div class="a" style="right:121.5px;top:1364.0px;font-size:15px;"><b class="eq">(Eq.4)</b></div>
<div class="a" style="left:871.0px;top:1411.2px;font-size:15.5px;font-weight:bold;-webkit-text-stroke:0.3px #231f20;">5.</div>
<div class="a" style="left:890.0px;top:1411.2px;font-size:15.5px;word-spacing:2.4px;">n<span class="es">2a</span> = n<span class="es">2d</span> =</div>
<div class="a" style="left:977.0px;top:1403.2px;font-size:15.5px;">1</div>
<div class="a" style="left:977.0px;top:1420.2px;font-size:15.5px;">2</div>
<div class="a" style="left:997.0px;top:1411.2px;font-size:15.5px;">x n<span class="es">2c</span></div>
<div class="a" style="left:890.0px;top:1451.2px;font-size:15.5px;">n<span class="es">2m</span> =</div>
<div class="a" style="left:933.5px;top:1437.2px;font-size:15.5px;word-spacing:0.3px;">n<span class="es">2a</span> x t<span class="es">a</span> + n<span class="es">2c</span> x t<span class="es">c</span> +n<span class="es">2d</span> x t<span class="es">d</span></div>
<div class="a" style="left:991.5px;top:1462.7px;font-size:15.5px;word-spacing:-1px;">t<span class="es">a</span>+ t<span class="es">c</span> + t<span class="es">d</span></div>
<div class="a" style="left:890.0px;top:1489.7px;font-size:15.5px;">n<span class="es">2N</span> =</div>
<div class="a" style="left:934.0px;top:1476.2px;font-size:15.5px;">n<span class="es">1N</span></div>
<div class="a" style="left:942.5px;top:1499.7px;font-size:15.5px;">i</div>
<div class="a" style="right:121.5px;top:1489.7px;font-size:15px;"><b class="eq">(Eq.5)</b></div>
<div class="a" style="left:869.5px;top:1567.2px;font-size:15.5px;font-weight:bold;-webkit-text-stroke:0.3px #231f20;">6.</div>
<div class="a" style="left:888.5px;top:1567.2px;font-size:15.5px;">F<span class="es">2rm</span>=</div>
<div class="a" style="left:932.5px;top:1568.0px;font-size:15px;">3</div>
<div class="a" style="left:956.0px;top:1550.7px;font-size:15.5px;word-spacing:0.3px;">n<span class="es">2a</span> x t<span class="es">a</span> x F<span class="es">2ra</span><span class="e3">3</span>+ n<span class="es">2c</span> x t<span class="es">c</span> x F<span class="es">2rc</span><span class="e3">3</span>+n<span class="es">2d</span> x t<span class="es">d</span> x F<span class="es">2rd</span><span class="e3">3</span></div>
<div class="a" style="left:1023.0px;top:1579.2px;font-size:15.5px;word-spacing:0.6px;">n<span class="es">2a</span> x t<span class="es">a</span>+ n<span class="es">2c</span> x t<span class="es">c</span> +n<span class="es">2d</span> x t<span class="es">d</span></div>
<div class="a" style="left:888.5px;top:1649.2px;font-size:15.5px;">F<span class="es">2am</span>=</div>
<div class="a" style="left:936.5px;top:1650.0px;font-size:15px;">3</div>
<div class="a" style="left:960.0px;top:1632.7px;font-size:15.5px;word-spacing:0.3px;">n<span class="es">2a</span> x t<span class="es">a</span> x F<span class="es">2aa</span><span class="e3">3</span>+ n<span class="es">2c</span> x t<span class="es">c</span> x F<span class="es">2ac</span><span class="e3">3</span>+n<span class="es">2d</span> x t<span class="es">d</span> x F<span class="es">2ad</span><span class="e3">3</span></div>
<div class="a" style="left:1026.0px;top:1661.2px;font-size:15.5px;word-spacing:0.6px;">n<span class="es">2a</span> x t<span class="es">a</span>+ n<span class="es">2c</span> x t<span class="es">c</span> +n<span class="es">2d</span> x t<span class="es">d</span></div>
<div class="a" style="right:121.5px;top:1689.7px;font-size:15px;"><b class="eq">(Eq.6)</b></div>
<div class="a" style="left:151.5px;top:1477.5px;font-size:17px;font-weight:bold;letter-spacing:2.2px;-webkit-text-stroke:0.3px #231f20;">S5 週期運轉之建議事項</div>
<div class="a" style="left:151.5px;top:1505.5px;font-size:16px;letter-spacing:1.15px;-webkit-text-stroke:0.3px #231f20;">一般的應用慣量須符合以下公式</div>
<div class="a" style="left:152.5px;top:1525.7px;font-size:15.5px;">J<span class="es">L</span></div>
<div class="a" style="left:154.5px;top:1549.7px;font-size:15.5px;">i<span class="e2">2</span></div>
<div class="a" style="left:180.5px;top:1537.7px;font-size:15.5px;">≤ 4 x J<span class="es">m</span></div>
<div class="a" style="left:151.5px;top:1580.9px;font-size:16px;letter-spacing:1.15px;-webkit-text-stroke:0.3px #231f20;">最適當的應用慣量須符合以下公式</div>
<div class="a" style="left:152.5px;top:1603.7px;font-size:15.5px;">J<span class="es">L</span></div>
<div class="a" style="left:154.5px;top:1627.7px;font-size:15.5px;">i<span class="e2">2</span></div>
<div class="a" style="left:177.5px;top:1615.7px;font-size:15.5px;">≅ J<span class="es">m</span></div>
<div class="a" style="left:152.5px;top:1657.2px;font-size:15.5px;">J<span class="es">L</span></div>
<div class="a" style="left:185.0px;top:1658.2px;font-size:16px;letter-spacing:1.6px;-webkit-text-stroke:0.3px #231f20;">負載慣量</div>
<div class="a" style="left:151.5px;top:1682.2px;font-size:15.5px;">J<span class="es">m</span></div>
<div class="a" style="left:185.0px;top:1683.2px;font-size:16px;letter-spacing:1.6px;-webkit-text-stroke:0.3px #231f20;">馬達慣量</div>
<div class="a" style="left:898.5px;top:1859.0px;font-size:17px;font-weight:bold;letter-spacing:0.75px;color:#1a1a1a;-webkit-text-stroke:0.4px #1a1a1a;">CREATE</div>
<div class="a" style="left:984px;top:1849px;font-size:34px;font-weight:bold;color:#111;-webkit-text-stroke:0.5px #111;transform:scaleX(0.78);transform-origin:0 0;">沈阳柯瑞艾特精密机械有限公司</div>
</div></body></html>
